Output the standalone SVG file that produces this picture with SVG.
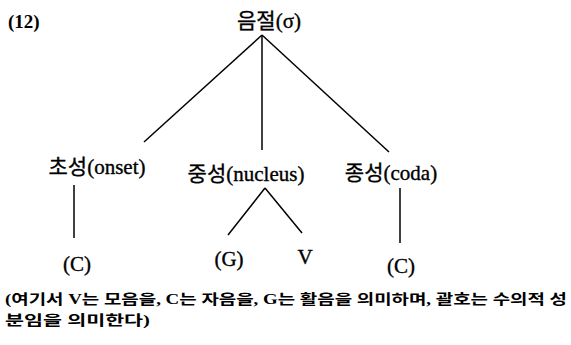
<svg xmlns="http://www.w3.org/2000/svg" width="571" height="345" viewBox="0 0 571 345">
<style>
.t{font-family:"Liberation Serif","Noto Sans CJK KR",serif;fill:#000}
.n{font-size:21px;stroke:#000;stroke-width:0.35}
.f{font-size:14px;font-weight:bold}
.e{stroke:#000;stroke-width:1.5;fill:none}
</style>
<rect width="571" height="345" fill="#fff"/>
<text class="t" x="8" y="28" font-size="19" font-weight="bold">(12)</text>
<g id="syllable"><text class="t n" x="269" y="28" text-anchor="middle">음절(σ)</text></g>
<g id="onset"><text class="t n" x="97" y="174" text-anchor="middle">초성(onset)</text></g>
<g id="nucleus"><text class="t n" x="246" y="181" text-anchor="middle">중성(nucleus)</text></g>
<g id="coda"><text class="t n" x="391" y="180" text-anchor="middle">종성(coda)</text></g>
<g id="c1"><text class="t n" x="77" y="271" text-anchor="middle">(C)</text></g>
<g id="g"><text class="t n" x="229" y="266" text-anchor="middle">(G)</text></g>
<g id="v"><text class="t n" x="305" y="264" text-anchor="middle">V</text></g>
<g id="c2"><text class="t n" x="401" y="273" text-anchor="middle">(C)</text></g>
<g id="connectors">
<line class="e" x1="262" y1="35" x2="144" y2="142"/>
<line class="e" x1="262" y1="35" x2="262" y2="150"/>
<line class="e" x1="262" y1="35" x2="389" y2="152"/>
<line class="e" x1="74" y1="185" x2="74" y2="238"/>
<line class="e" x1="265" y1="188" x2="228" y2="235"/>
<line class="e" x1="265" y1="188" x2="302" y2="233"/>
<line class="e" x1="400" y1="188" x2="400" y2="243"/>
</g>
<text class="t f" x="5" y="304" textLength="562" lengthAdjust="spacingAndGlyphs">(여기서 V는 모음을, C는 자음을, G는 활음을 의미하며, 괄호는 수의적 성</text>
<text class="t f" x="5" y="325" textLength="145" lengthAdjust="spacingAndGlyphs">분임을 의미한다)</text>
</svg>
